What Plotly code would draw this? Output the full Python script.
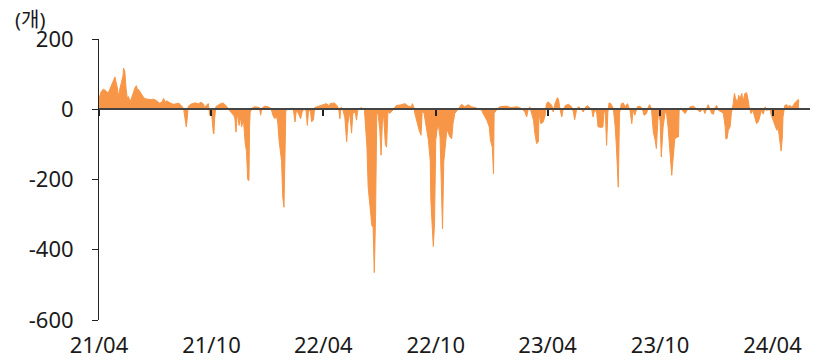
import pandas as pd
import plotly.graph_objects as go

# Days since 2021-04-01 and the value (개)
start_date = "2021-04-01"
day_offsets = [
    0, 2, 4, 7, 11, 15, 18, 20, 23, 26, 28, 30, 31, 33, 34, 37, 39, 40, 42, 44,
    46, 48, 50, 52, 55, 57, 59, 61, 63, 64, 67, 69, 72, 75, 78, 82, 85, 88, 93, 99,
    103, 105, 108, 110, 113, 116, 121, 125, 130, 133, 136, 138, 140, 142, 144, 145, 150, 156, 162, 166,
    170, 172, 175, 178, 180, 183, 186, 187, 188, 190,
    197, 202, 208, 212, 219, 221, 223, 225, 228, 230, 232, 235, 238, 240, 242, 244, 245, 246, 250, 254,
    261, 263, 265, 270, 275, 280, 283, 286, 289, 291, 293, 297, 299, 301, 303, 304, 311, 316, 319, 321,
    324, 326, 328, 331, 335, 337, 339, 341, 344, 346, 349, 351, 357, 362, 365, 370, 375, 376, 383, 387,
    390, 392, 394, 397, 400, 403, 405, 406, 408, 411, 413, 417, 419, 421, 427, 432, 433, 436, 438, 441,
    444, 446, 448, 450, 452, 454, 457, 459, 461, 463, 464, 466, 468, 470, 472, 473, 479, 484, 490, 498,
    503, 508, 510, 513, 514, 517, 521, 524, 526, 529, 532, 536, 539, 540, 542, 544, 546, 548, 550, 552,
    555, 556, 559, 561, 563, 566, 568, 571, 574, 576, 579, 582, 585, 590, 595, 601, 606, 612, 617, 623,
    625, 631, 635, 637, 640, 642, 643, 647, 652, 663, 670, 680, 688, 693, 696, 698, 701, 704, 707, 709,
    712, 715, 716, 719, 723, 726, 728, 731, 737, 739, 742, 746, 748, 750, 753, 755, 759, 764, 769, 772,
    774, 777, 780, 784, 788, 792, 795, 799, 802, 804, 807, 810, 812, 818, 820, 822, 824, 826, 828, 830,
    833, 837, 840, 842, 845, 847, 850, 853, 856, 860, 864, 867, 869, 872, 876, 880, 884, 887, 891, 894,
    896, 899, 902, 905, 907, 910, 913, 915, 918, 921, 923, 926, 929, 932, 933, 936, 937, 941, 943, 944,
    948, 951, 954, 957, 962, 967, 972, 978, 983, 986, 989, 991, 994, 997, 1000, 1002, 1005, 1008, 1013, 1016,
    1019, 1020, 1022, 1024, 1027, 1029, 1032, 1034, 1036, 1039, 1041, 1043, 1046, 1048, 1051, 1054, 1056, 1058, 1061, 1064,
    1067, 1070, 1073, 1075, 1078, 1081, 1084, 1086, 1092, 1094, 1097, 1100, 1103, 1105, 1108, 1110, 1112, 1113, 1116, 1119,
    1121, 1124, 1127, 1130, 1132, 1135, 1138, 1139,
]
values = [
    31, 45, 52, 57, 53, 46, 58, 63, 79, 92, 75, 60, 36, 50, 60, 84, 95, 117, 108, 60,
    31, 36, 24, 27, 45, 56, 63, 67, 50, 57, 48, 41, 35, 30, 29, 28, 27, 29, 25, 17,
    22, 31, 20, 24, 20, 18, 14, 16, 17, 12, 6, -3, -35, -50, -20, 8, 15, 18, 16, 20,
    15, 4, 12, 16, -17, -5, -68, -70, -30, 7,
    15, 18, 8, -3, -17, -25, -65, -10, -46, -20, -50, -30, -98, -120, -200, -203, -50, -8, 5, 7,
    5, -17, 3, 9, 7, 2, -17, -27, -20, -40, -89, -146, -250, -279, -100, -3, 2, 3, -36, -5,
    -10, -22, -27, -5, 2, -5, -46, -3, -5, -36, -30, 5, 9, 12, 14, 16, 9, 16, 18, 11,
    2, -27, 7, -3, -22, -93, -40, -27, -8, -68, -12, -8, -31, -3, 5, -3, -36, -108, -222, -279,
    -331, -336, -465, -307, -12, -12, -60, -131, -41, -12, -60, -100, -108, -12, -3, -12, -1, 11, 12, 16,
    9, 7, 16, 2, -12, -36, -60, -74, -3, -12, -50, -88, -146, -260, -326, -391, -326, -88, -60, -41,
    -79, -174, -341, -150, -103, -60, -65, -79, -84, -41, -12, -3, 2, 14, 7, 13, 7, 5, 2, -3,
    -12, -31, -50, -88, -108, -184, -12, -1, 7, 9, 5, 7, 2, -8, -22, -3, 7, -17, -31, -65,
    -98, -93, -12, -41, -36, -17, 16, 21, 11, -8, 16, 33, 26, 2, -22, -3, 11, 14, 7, -8,
    -30, -3, 7, 2, -8, 7, 10, 4, -3, -22, 2, -12, -50, -52, -50, -1, -12, -103, -10, 18,
    16, 2, -50, -108, -222, -12, 16, 18, 7, 16, -3, -41, -3, -17, 7, 9, 2, -17, -12, 7,
    13, 2, -65, -88, -112, -12, -31, -136, -50, -12, -3, -50, -136, -188, -165, -110, -84, -79, -79, -3,
    2, -8, -12, -3, 7, 9, 2, -8, 2, -12, 2, 13, 2, -12, -14, 2, 11, -3, -8, -12,
    -50, -84, -84, -60, -50, -12, 16, 45, 30, 21, 40, 30, 45, 21, 45, 47, 30, 7, -12, -3,
    -22, -41, -36, -22, -3, -14, 7, -3, -1, -17, -31, -50, -60, -50, -88, -119, -79, -22, 11, 13,
    7, 11, 7, 11, 18, 24, 28, 20,
]

tick_dates = ["2021-04-01", "2021-10-01", "2022-04-01", "2022-10-01",
              "2023-04-01", "2023-10-01", "2024-04-01"]
tick_labels = ["21/04", "21/10", "22/04", "22/10", "23/04", "23/10", "24/04"]
y_ticks = [200, 0, -200, -400, -600]
y_tick_labels = ["200", "0", "-200", "-400", "-600"]
x_range = ["2021-04-01", "2024-06-14"]
unit_label = "(개)"

dates = pd.Timestamp(start_date) + pd.to_timedelta(day_offsets, unit="D")

ORANGE = "#F79646"
FONT = "Noto Sans, Noto Sans CJK KR, sans-serif"
TXT = "#1a1a1a"

fig = go.Figure()
fig.add_trace(go.Scatter(
    x=dates, y=values, mode="lines",
    line=dict(color=ORANGE, width=1),
    fill="tozeroy", fillcolor=ORANGE,
    hoverinfo="skip", showlegend=False,
))
# same series bound to the overlay axis that carries the zero baseline and its ticks
fig.add_trace(go.Scatter(
    x=dates, y=values, mode="lines", xaxis="x2",
    line=dict(color="rgba(0,0,0,0)", width=0),
    hoverinfo="skip", showlegend=False,
))

# the page body adds an 8px offset, so the figure is 8px smaller on each axis
fig.update_layout(
    width=810, height=353,
    margin=dict(l=91, r=0, t=31, b=41, autoexpand=False),
    paper_bgcolor="white", plot_bgcolor="white",
    font=dict(family=FONT, size=22, color=TXT),
    showlegend=False,
    xaxis=dict(
        type="date", range=x_range, automargin=False,
        tickvals=tick_dates, ticktext=tick_labels,
        ticks="", showline=False, showgrid=False, zeroline=False,
        tickfont=dict(size=22, color=TXT),
        ticklabelstandoff=10,
    ),
    xaxis2=dict(
        type="date", range=x_range, overlaying="x", anchor="free", position=0.75,
        tickvals=tick_dates, showticklabels=False, automargin=False,
        ticks="outside", ticklen=6, tickwidth=1.5, tickcolor="#222222",
        showline=True, linecolor="#444444", linewidth=1.5,
        showgrid=False, zeroline=False, layer="above traces",
    ),
    yaxis=dict(
        range=[-600, 200], tickvals=y_ticks, ticktext=y_tick_labels, automargin=False,
        ticks="outside", ticklen=6, tickwidth=1, tickcolor="#222222",
        showline=True, linecolor="#222222", linewidth=1,
        showgrid=False, zeroline=False,
        tickfont=dict(size=22, color=TXT),
        ticklabelstandoff=14,
    ),
    annotations=[dict(
        text=unit_label, xref="paper", yref="paper",
        x=-86 / 719, y=1 + 19.5 / 281, xanchor="left", yanchor="middle",
        showarrow=False, font=dict(size=20, color=TXT),
    )],
)

fig.write_html("out.html")
